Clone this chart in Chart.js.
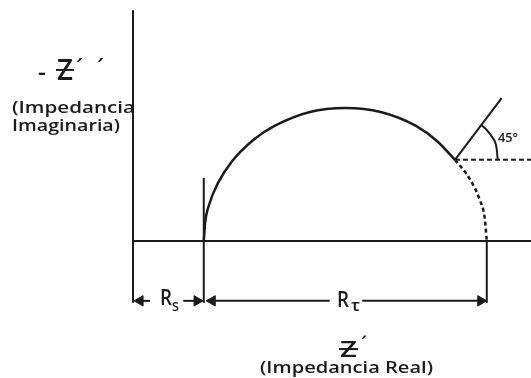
<!DOCTYPE html>
<html>
<head>
<meta charset="utf-8">
<script src="https://cdn.jsdelivr.net/npm/chart.js@4.4.1/dist/chart.umd.min.js"></script>
<style>
  html, body { margin: 0; padding: 0; background: #fff; }
  #wrap { width: 531px; height: 378px; }
</style>
</head>
<body>
<div id="wrap"><canvas id="nyquist" width="531" height="378"></canvas></div>
<script>
// Resistances (same units as Z')
const rs = 1;
const rct = 4;

// Solid part of the semicircle, Z' vs -Z''
const arcRe = [1.00, 1.02, 1.08, 1.20, 1.40, 1.70, 2.00, 2.50, 3.00, 3.50, 4.00, 4.30, 4.55];
const arcIm = [0.00, 0.28, 0.56, 0.87, 1.20, 1.52, 1.73, 1.94, 2.00, 1.94, 1.73, 1.50, 1.22];

// Dashed tail down to Rs + Rct
const tailRe = [4.55, 4.75, 4.90, 4.97, 5.00];
const tailIm = [1.22, 0.95, 0.62, 0.35, 0.00];

// 45 degree construction at the end of the solid arc
const slopeRe = [4.55, 5.21];
const slopeIm = [1.22, 2.15];
const angleRe = [5.155, 5.138, 5.077, 4.981, 4.919];
const angleIm = [1.22, 1.40, 1.56, 1.69, 1.75];

// Axes and dimension lines
const axisTop = 3.47;
const dimY = -0.9;
const rsTickTop = 0.95;

const ink = '#1b1b1b';
const pts = (xs, ys) => xs.map((x, i) => ({ x: x, y: ys[i] }));

function seg(data, opts) {
  return Object.assign({
    data: data,
    showLine: true,
    borderColor: ink,
    borderWidth: 2,
    pointRadius: 0,
    fill: false,
    tension: 0
  }, opts || {});
}

const arrowTips = [
  { x: 0.10, y: dimY },            // Rs, left
  { x: rs - 0.095, y: dimY },      // Rs, right
  { x: rs + 0.12, y: dimY },       // Rct, left
  { x: rs + rct - 0.085, y: dimY } // Rct, right
];

const datasets = [
  // vertical axis (-Z'')
  seg([{ x: 0, y: dimY - 0.03 }, { x: 0, y: axisTop }]),
  // horizontal axis (Z')
  seg([{ x: 0, y: 0 }, { x: 6, y: 0 }]),
  // tick at Rs and at Rs + Rct
  seg([{ x: rs, y: dimY - 0.03 }, { x: rs, y: rsTickTop }]),
  seg([{ x: rs + rct, y: dimY - 0.03 }, { x: rs + rct, y: 0 }]),
  // dimension shafts
  seg([{ x: 0.05, y: dimY }, { x: 0.24, y: dimY }]),
  seg([{ x: 0.71, y: dimY }, { x: rs - 0.03, y: dimY }]),
  seg([{ x: rs + 0.05, y: dimY }, { x: 2.78, y: dimY }]),
  seg([{ x: 3.24, y: dimY }, { x: rs + rct - 0.03, y: dimY }]),
  // arrow heads
  {
    data: arrowTips,
    showLine: false,
    pointStyle: 'triangle',
    pointRadius: 6,
    pointRotation: [270, 90, 270, 90],
    backgroundColor: ink,
    borderColor: ink,
    borderWidth: 1
  },
  // semicircle
  seg(pts(arcRe, arcIm), { borderWidth: 2.5, cubicInterpolationMode: 'monotone' }),
  seg(pts(tailRe, tailIm), { borderWidth: 2.5, borderDash: [4, 3], cubicInterpolationMode: 'monotone' }),
  // 45 degree line, reference and angle arc
  seg(pts(slopeRe, slopeIm)),
  seg([{ x: slopeRe[0], y: slopeIm[0] }, { x: 6, y: slopeIm[0] }], { borderDash: [5, 3] }),
  seg(pts(angleRe, angleIm), { cubicInterpolationMode: 'monotone' })
];

// text drawn straight on the canvas
function label(ctx, text, x, y, font, width) {
  ctx.font = font;
  const w = ctx.measureText(text).width;
  ctx.save();
  ctx.translate(x, y);
  if (width) ctx.scale(width / w, 1);
  ctx.fillText(text, 0, 0);
  ctx.restore();
}

// Z with the middle stroke
function strokedZ(ctx, x, y, size, width) {
  label(ctx, 'Z', x, y, '600 ' + size + 'px "Open Sans"', width);
  ctx.save();
  ctx.strokeStyle = ink;
  ctx.lineWidth = 2;
  ctx.beginPath();
  ctx.moveTo(x - 1, y - size * 0.36);
  ctx.lineTo(x + width + 1, y - size * 0.36);
  ctx.stroke();
  ctx.restore();
}

const textPlugin = {
  id: 'textLabels',
  beforeDatasetsDraw(chart) {
    const ctx = chart.ctx;
    ctx.save();
    ctx.fillStyle = ink;
    ctx.textBaseline = 'alphabetic';

    // y axis title
    label(ctx, '-', 38, 80, '600 24px "Open Sans"', 8);
    strokedZ(ctx, 57, 80, 28, 16);
    label(ctx, '´', 76, 78, '26px "Open Sans"');
    label(ctx, '´', 97, 78, '26px "Open Sans"');
    label(ctx, '(Impedancia', 12, 113, '600 17px "Open Sans"', 123);
    label(ctx, 'Imaginaria)', 12, 131, '600 17px "Open Sans"', 108);

    // x axis title
    strokedZ(ctx, 340, 357, 22, 17);
    label(ctx, '´', 361, 352, '22px "Open Sans"');
    label(ctx, '(Impedancia Real)', 260, 373, '600 17px "Open Sans"', 173);

    // resistance labels
    label(ctx, 'R', 160, 305, '600 21px "Open Sans"', 12);
    label(ctx, 'S', 172, 311, '600 13px "Open Sans"', 7);
    label(ctx, 'R', 337, 307, '600 21px "Open Sans"', 12);
    label(ctx, 'τ', 351, 311, '600 16px "Open Sans"', 9);

    // angle
    label(ctx, '45°', 498, 142, '600 13px "Open Sans"', 20);
    ctx.restore();
  }
};

new Chart(document.getElementById('nyquist'), {
  type: 'scatter',
  data: { datasets: datasets },
  options: {
    responsive: false,
    animation: false,
    events: [],
    layout: { padding: 0, autoPadding: false },
    plugins: { legend: { display: false }, tooltip: { enabled: false } },
    scales: {
      x: { type: 'linear', display: false, min: -1.88, max: 5.625 },
      y: { type: 'linear', display: false, min: -2.06, max: 3.624 }
    }
  },
  plugins: [textPlugin]
});
</script>
</body>
</html>
